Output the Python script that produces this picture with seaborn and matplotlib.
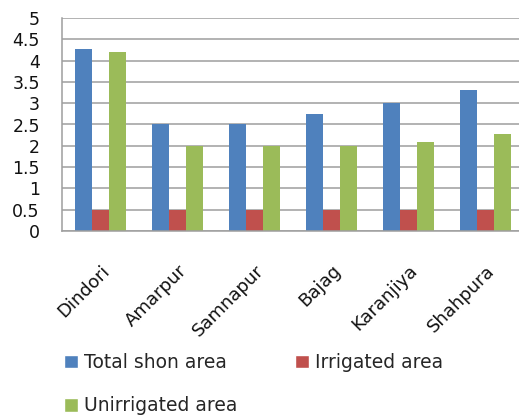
import numpy as np
import pandas as pd
import matplotlib
matplotlib.use("Agg")
import matplotlib.pyplot as plt
import seaborn as sns
from matplotlib.patches import Patch

# Area figures per block
blocks = ["Dindori", "Amarpur", "Samnapur", "Bajag", "Karanjiya", "Shahpura"]
total_sown = [4.27, 2.5, 2.5, 2.75, 3.0, 3.3]
irrigated = [0.5, 0.5, 0.5, 0.5, 0.5, 0.5]
unirrigated = [4.2, 2.0, 2.0, 2.0, 2.08, 2.27]

series_names = ["Total shon area", "Irrigated area", "Unirrigated area"]
series_colors = ["#4F81BD", "#C0504D", "#9BBB59"]

y_ticks = [0, 0.5, 1, 1.5, 2, 2.5, 3, 3.5, 4, 4.5, 5]
y_tick_labels = ["0", "0.5", "1", "1.5", "2", "2.5", "3", "3.5", "4", "4.5", "5"]

df = pd.DataFrame({
    "block": blocks * 3,
    "series": [series_names[0]] * len(blocks)
    + [series_names[1]] * len(blocks)
    + [series_names[2]] * len(blocks),
    "value": total_sown + irrigated + unirrigated,
})

sns.set_style("white")
plt.rcParams["font.family"] = ["DejaVu Sans"]

W, H = 519, 419
fig = plt.figure(figsize=(W / 100, H / 100), dpi=100)
ax = fig.add_axes([62 / W, (H - 231) / H, 462 / W, 213 / H])

sns.barplot(
    data=df, x="block", y="value", hue="series",
    order=blocks, hue_order=series_names, palette=series_colors,
    width=0.66, saturation=1, linewidth=0, legend=False, ax=ax,
)

grid_color = "#9e9e9e"
ax.set_xlim(-0.5, 5.5)
ax.set_ylim(0, 5)
ax.set_yticks(y_ticks)
ax.set_yticklabels(y_tick_labels)
ax.set_xlabel("")
ax.set_ylabel("")
ax.yaxis.grid(True, color=grid_color, linewidth=1.1)
ax.set_axisbelow(True)

for side in ("top", "right"):
    ax.spines[side].set_visible(False)
for side in ("left", "bottom"):
    ax.spines[side].set_color(grid_color)
    ax.spines[side].set_linewidth(1.1)

ax.tick_params(axis="y", length=7, width=1.1, color=grid_color, pad=9,
               labelsize=12.5, labelcolor="#111111")
ax.set_xticks(np.arange(-0.5, 6, 1), minor=True)
ax.tick_params(axis="x", which="minor", length=5, width=1.1, color=grid_color)
ax.tick_params(axis="x", which="major", length=0, pad=22,
               labelsize=13, labelcolor="#111111")
for lbl in ax.get_xticklabels():
    lbl.set_rotation(45)
    lbl.set_ha("right")
    lbl.set_va("top")
    lbl.set_rotation_mode("anchor")

# Legend laid out row-wise: column fill order needs Total, Unirrigated, Irrigated
handles = [
    Patch(facecolor=series_colors[0], label=series_names[0]),
    Patch(facecolor=series_colors[2], label=series_names[2]),
    Patch(facecolor=series_colors[1], label=series_names[1]),
]
fig.legend(
    handles=handles, ncol=2, loc="upper left",
    bbox_to_anchor=(64 / W, 1 - 353 / H), frameon=False,
    fontsize=13.5, handlelength=0.75, handleheight=0.75, handletextpad=0.3,
    columnspacing=3.1, labelspacing=1.3, borderpad=0, borderaxespad=0,
)

fig.savefig("out.png", dpi=100)
